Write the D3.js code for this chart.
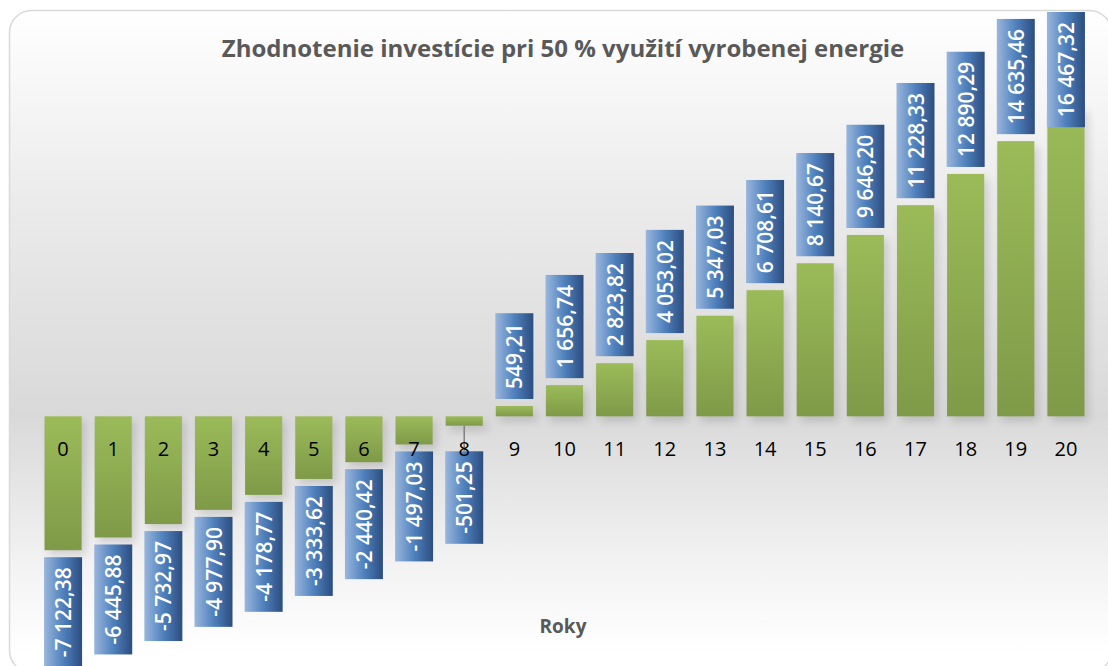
<!DOCTYPE html>
<html>
<head>
<meta charset="utf-8">
<script src="https://cdn.jsdelivr.net/npm/d3@7"></script>
<style>
    body { margin: 0; background: #ffffff; }
    svg { display: block; }
    .catLabels { font-family: "Open Sans", sans-serif; font-size: 20px; fill: #000000; }
    .valueLabels { font-family: "Open Sans", sans-serif; font-size: 21px; font-weight: 600; fill: #ffffff; }
    .chartTitle { font-family: "Open Sans", sans-serif; font-size: 24px; font-weight: 700; fill: #595959; }
    .axisTitle { font-family: "Open Sans", sans-serif; font-size: 19px; font-weight: 700; fill: #595959; }
</style>
</head>
<body>
<script>
(function(){

//pseudo-global variables
var years = ["0","1","2","3","4","5","6","7","8","9","10","11","12","13","14","15","16","17","18","19","20"]; //category labels
var values = [-7122.38, -6445.88, -5732.97, -4977.90, -4178.77, -3333.62, -2440.42, -1497.03, -501.25,
    549.21, 1656.74, 2823.82, 4053.02, 5347.03, 6708.61, 8140.67, 9646.20, 11228.33, 12890.29, 14635.46, 16467.32]; //cumulative value per year
var chartTitleText = "Zhodnotenie investície pri 50 % využití vyrobenej energie";
var axisTitleText = "Roky";

var width = 1108,
    height = 666;

//number format with space for thousands and comma for decimals
var locale = d3.formatLocale({decimal: ",", thousands: " ", grouping: [3], currency: ["", ""], minus: "-"});
var fmt = locale.format(",.2f");

window.onload = setChart();

function setChart(){
    var svg = d3.select("body")
        .append("svg")
        .attr("width", width)
        .attr("height", height);

    var defs = svg.append("defs");
    makeGradients(defs);

    //chart frame with grey background gradient
    svg.append("rect")
        .attr("class", "chartFrame")
        .attr("x", 9.5)
        .attr("y", 10.5)
        .attr("width", 1102)
        .attr("height", 662)
        .attr("rx", 22)
        .attr("fill", "url(#bgGrad)")
        .attr("stroke", "#d9d9d9")
        .attr("stroke-width", 1.5);

    //scales
    var x = d3.scaleBand()
        .domain(years)
        .range([38, 1091])
        .paddingInner(0.26)
        .paddingOuter(0.13);

    var y = d3.scaleLinear()
        .domain([-8000, 18000])
        .range([566.7, 77.9]);

    var data = years.map(function(d, i){ return {year: d, value: values[i]}; });

    //bar shadows
    svg.append("g")
        .attr("class", "shadows")
        .selectAll("rect")
        .data(data)
        .enter()
        .append("rect")
        .attr("x", function(d){ return x(d.year) + 4; })
        .attr("y", function(d){ return Math.min(y(d.value), y(0)) + 5; })
        .attr("width", x.bandwidth())
        .attr("height", function(d){ return Math.abs(y(d.value) - y(0)); })
        .attr("fill", "#000")
        .attr("opacity", 0.13)
        .attr("filter", "url(#blur)");

    //bars
    svg.append("g")
        .attr("class", "bars")
        .selectAll("rect")
        .data(data)
        .enter()
        .append("rect")
        .attr("x", function(d){ return x(d.year); })
        .attr("y", function(d){ return Math.min(y(d.value), y(0)); })
        .attr("width", x.bandwidth())
        .attr("height", function(d){ return Math.abs(y(d.value) - y(0)); })
        .attr("fill", "url(#barGrad)");

    setValueLabels(svg, data, x, y);

    //category labels
    svg.append("g")
        .selectAll("text")
        .data(data)
        .enter()
        .append("text")
        .attr("class", "catLabels")
        .attr("x", function(d){ return x(d.year) + x.bandwidth() / 2; })
        .attr("y", y(0) + 39.5)
        .attr("text-anchor", "middle")
        .text(function(d){ return d.year; });

    //chart title
    svg.append("text")
        .attr("class", "chartTitle")
        .attr("x", 563)
        .attr("y", 57)
        .attr("text-anchor", "middle")
        .text(chartTitleText);

    //axis title
    svg.append("text")
        .attr("class", "axisTitle")
        .attr("x", 563)
        .attr("y", 633)
        .attr("text-anchor", "middle")
        .text(axisTitleText);
};

//data labels in blue boxes, rotated text
function setValueLabels(svg, data, x, y){
    var boxW = 38,
        pad = 10,
        gap = 7,
        topLimit = 12,
        negMin = y(0) + 35;

    var g = svg.append("g").attr("class", "valueLabels");

    data.forEach(function(d){
        var cx = x(d.year) + x.bandwidth() / 2;
        var label = g.append("g");
        var box = label.append("rect")
            .attr("width", boxW)
            .attr("fill", "url(#labelGrad)");
        var txt = label.append("text")
            .attr("class", "valueLabels")
            .attr("text-anchor", "middle")
            .attr("dominant-baseline", "central")
            .text(fmt(d.value));
        var len = txt.node().getComputedTextLength();
        var boxH = len + pad * 2;
        var top;
        if (d.value >= 0){
            top = y(d.value) - gap - boxH;
            if (top < topLimit) top = topLimit;
        } else {
            var barEnd = y(d.value);
            top = Math.max(barEnd + gap, negMin);
            //leader line when the label was pushed away from its bar
            if (top > barEnd + gap + 1){
                g.append("line")
                    .attr("x1", cx).attr("x2", cx)
                    .attr("y1", barEnd).attr("y2", top)
                    .attr("stroke", "#7f7f7f")
                    .attr("stroke-width", 1.5);
            }
        };
        box.attr("x", cx - boxW / 2).attr("y", top).attr("height", boxH);
        txt.attr("transform", "translate(" + cx + "," + (top + boxH / 2) + ") rotate(-90)");
    });
};

function makeGradients(defs){
    var bg = defs.append("linearGradient")
        .attr("id", "bgGrad")
        .attr("x1", 0).attr("y1", 0).attr("x2", 0).attr("y2", 1);
    [[0, "#ffffff"], [0.29, "#ebebeb"], [0.61, "#d9d9d9"], [0.84, "#f3f3f3"], [0.97, "#ffffff"]].forEach(function(s){
        bg.append("stop").attr("offset", s[0]).attr("stop-color", s[1]);
    });

    var bar = defs.append("linearGradient")
        .attr("id", "barGrad")
        .attr("x1", 0).attr("y1", 0).attr("x2", 0).attr("y2", 1);
    bar.append("stop").attr("offset", 0).attr("stop-color", "#9bbb59");
    bar.append("stop").attr("offset", 1).attr("stop-color", "#7f9a48");

    var lab = defs.append("linearGradient")
        .attr("id", "labelGrad")
        .attr("x1", 0).attr("y1", 0).attr("x2", 1).attr("y2", 0);
    lab.append("stop").attr("offset", 0).attr("stop-color", "#9ab6dd");
    lab.append("stop").attr("offset", 0.5).attr("stop-color", "#4f81bd");
    lab.append("stop").attr("offset", 1).attr("stop-color", "#2c4d7f");

    var blur = defs.append("filter")
        .attr("id", "blur")
        .attr("x", "-50%").attr("y", "-50%").attr("width", "200%").attr("height", "200%");
    blur.append("feGaussianBlur").attr("stdDeviation", 4);
};

})();
</script>
</body>
</html>
